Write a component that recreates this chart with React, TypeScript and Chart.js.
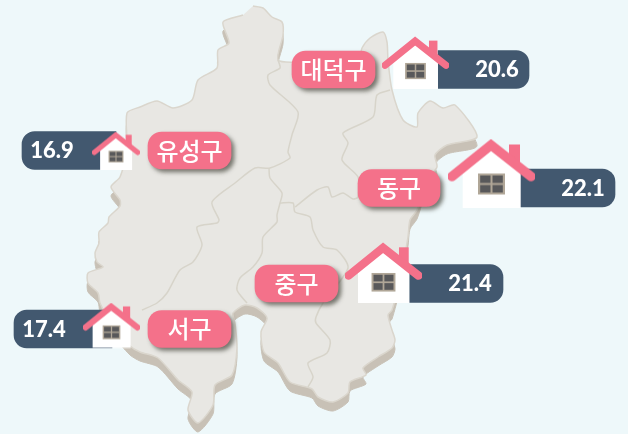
import React, { useEffect, useRef } from "react";
import { Chart, registerables } from "chart.js";

Chart.register(...registerables);

const districts = ["대덕구", "동구", "중구", "유성구", "서구"];
const values = [20.6, 22.1, 21.4, 16.9, 17.4];
const rowY = [69.5, 188, 283.5, 150.5, 329];
const valueBarFrom = [438, 520, 409.5, 116, 112];
const valueBarTo = [529, 615, 503, 22, 14];
const labelFrom = [292, 358, 255, 148, 148];
const labelTo = [375, 440, 338, 231, 231];
const valueTextX = [497, 583, 470, 52, 44];
const houseX = [415.5, 491.5, 383.5, 116, 111.5];
const houseY = [62.5, 173, 272.5, 150.5, 325.5];
const houseWidth = [67, 87, 77, 48, 57];

const mapOutline: number[][] = [
  [253, 6], [263, 8], [272, 17], [282, 22], [283, 35], [278, 60], [300, 62], [358, 60], [362, 48],
  [370, 38], [383, 32], [387, 42], [388, 60], [392, 90], [403, 120], [417, 127], [418, 113],
  [430, 101], [443, 108], [455, 105], [477, 137], [447, 145], [435, 155], [437, 167], [427, 180],
  [417, 210], [410, 220], [408, 237], [400, 280], [392, 310], [388, 315], [392, 330], [395, 340],
  [392, 348], [378, 357], [363, 368], [366, 375], [350, 382], [348, 393], [333, 402], [318, 397],
  [312, 389], [290, 382], [278, 363], [264, 352], [261, 332], [267, 318], [257, 308], [245, 305],
  [233, 313], [235, 323], [237, 348], [232, 375], [215, 385], [213, 405], [198, 423], [188, 410],
  [192, 392], [178, 380], [158, 358], [140, 352], [130, 346], [112, 325], [100, 303], [98, 293],
  [88, 283], [88, 273], [103, 267], [97, 262], [95, 253], [99, 243], [99, 232], [108, 223],
  [109, 217], [120, 206], [120, 200], [111, 187], [120, 177], [127, 150], [127, 113], [140, 107],
  [157, 101], [173, 108], [192, 100], [198, 80], [217, 68], [218, 50], [229, 43], [223, 22], [243, 15],
];
const borderWest: number[][] = [
  [278, 60], [280, 68], [268, 75], [270, 85], [298, 112], [292, 135], [288, 152], [290, 158], [270, 168],
  [255, 168], [235, 183], [212, 202], [219, 220], [217, 223], [197, 227], [202, 245], [193, 262],
  [180, 270], [167, 293], [157, 303], [142, 310],
];
const borderCentre: number[][] = [
  [269, 168], [270, 178], [282, 193], [280, 203], [277, 215], [277, 222], [263, 237], [262, 253],
  [253, 267], [240, 278], [237, 290], [247, 303],
];
const borderSouth: number[][] = [
  [280, 203], [293, 203], [295, 212], [310, 217], [313, 230], [323, 247], [337, 250], [348, 268],
  [323, 303], [316, 317], [316, 323], [330, 340], [327, 353], [308, 363], [313, 377], [308, 387],
];
const borderEast: number[][] = [
  [295, 207], [317, 190], [328, 187], [332, 197], [343, 193], [353, 199], [358, 197], [358, 177],
  [342, 160], [348, 143], [343, 133], [373, 117], [377, 95], [390, 90],
];
const coastSliver: number[][] = [[128, 317], [143, 310]];

const DEPTH = 9;
const COL = { bg: "#EEF8FA", land: "#E8E7E3", side: "#C8C1B6", line: "#D7D4CA", pink: "#F4718A", navy: "#42586F" };

function pts(list: number[][], dy = 0) {
  return list.map(([x, y]) => ({ x, y: y + dy }));
}

function makeHouse(w: number) {
  const c = document.createElement("canvas");
  c.width = Math.ceil(w);
  c.height = Math.ceil(w * 0.79);
  const g = c.getContext("2d")!;
  const s = w / 87;
  g.scale(s, s);
  g.fillStyle = "#fff";
  g.beginPath();
  g.moveTo(14.7, 69); g.lineTo(14.7, 28); g.lineTo(43, 6); g.lineTo(72.7, 28); g.lineTo(72.7, 69);
  g.closePath(); g.fill();
  g.fillStyle = COL.pink;
  g.fillRect(61, 6, 11, 20);
  g.strokeStyle = COL.pink;
  g.lineWidth = 9.4;
  g.lineJoin = "miter";
  g.lineCap = "round";
  g.beginPath();
  g.moveTo(4, 38); g.lineTo(43, 6.5); g.lineTo(83, 38);
  g.stroke();
  g.fillStyle = "#B0A697";
  g.fillRect(30, 35, 27, 21);
  g.fillStyle = "#58585A";
  g.fillRect(32.2, 37, 10.3, 7.5);
  g.fillRect(44.5, 37, 10.3, 7.5);
  g.fillRect(32.2, 46.5, 10.3, 7.5);
  g.fillRect(44.5, 46.5, 10.3, 7.5);
  return c;
}

const lineDs = (data: any[], color: string, width: number, order: number) => ({
  type: "scatter" as const,
  data,
  showLine: true,
  fill: false,
  borderColor: color,
  borderWidth: width,
  pointRadius: 0,
  tension: 0.25,
  order,
});

const overlays = {
  id: "overlays",
  beforeDatasetDraw(chart: any, args: any) {
    const ds = chart.data.datasets[args.index];
    chart.ctx.save();
    if (ds.castShadow) {
      chart.ctx.shadowColor = "rgba(70,70,60,0.7)";
      chart.ctx.shadowBlur = 4;
      chart.ctx.shadowOffsetX = 3;
      chart.ctx.shadowOffsetY = 3;
    }
  },
  afterDatasetDraw(chart: any) {
    chart.ctx.restore();
  },
  afterDatasetsDraw(chart: any) {
    const { ctx, scales } = chart;
    ctx.save();
    ctx.fillStyle = "#fff";
    ctx.textAlign = "center";
    ctx.textBaseline = "middle";
    ctx.font = '900 22px Lato';
    values.forEach((v, i) => {
      ctx.fillText(v.toFixed(1), scales.x.getPixelForValue(valueTextX[i]), scales.y.getPixelForValue(rowY[i]) + 0.5);
    });
    ctx.font = '500 24px "Noto Sans CJK KR"';
    districts.forEach((d, i) => {
      ctx.fillText(d, scales.x.getPixelForValue((labelFrom[i] + labelTo[i]) / 2), scales.y.getPixelForValue(rowY[i]));
    });
    ctx.restore();
  },
};

export default function App() {
  const ref = useRef<HTMLCanvasElement>(null);
  useEffect(() => {
    const chart = new Chart(ref.current!, {
      type: "scatter",
      data: {
        datasets: [
          { ...lineDs(pts(mapOutline, DEPTH), COL.side, 1, 10), fill: "shape", backgroundColor: COL.side },
          { ...lineDs(pts(coastSliver), COL.side, 5, 9) },
          { ...lineDs(pts(mapOutline), "#DAD6CD", 1.5, 8), fill: "shape", backgroundColor: COL.land },
          lineDs(pts(borderWest), COL.line, 1.5, 7),
          lineDs(pts(borderCentre), COL.line, 1.5, 7),
          lineDs(pts(borderSouth), COL.line, 1.5, 7),
          lineDs(pts(borderEast), COL.line, 1.5, 7),
          {
            type: "bar",
            indexAxis: "y",
            grouped: false,
            barThickness: 38,
            data: values.map((_, i) => ({ x: [valueBarFrom[i], valueBarTo[i]], y: rowY[i] })),
            backgroundColor: COL.navy,
            borderSkipped: false,
            borderRadius: (c: any) => {
              const r = 13;
              return c.dataIndex < 3
                ? { topLeft: 0, bottomLeft: 0, topRight: r, bottomRight: r }
                : { topLeft: r, bottomLeft: r, topRight: 0, bottomRight: 0 };
            },
            order: 5,
          },
          {
            type: "bar",
            indexAxis: "y",
            grouped: false,
            barThickness: 37,
            data: values.map((_, i) => ({ x: [labelFrom[i], labelTo[i]], y: rowY[i] })),
            backgroundColor: COL.pink,
            borderSkipped: false,
            borderRadius: 14,
            castShadow: true,
            order: 4,
          },
          {
            type: "scatter",
            data: houseX.map((x, i) => ({ x, y: houseY[i] })),
            pointStyle: houseWidth.map(makeHouse),
            pointRadius: 1,
            showLine: false,
            order: 3,
          },
        ] as any,
      },
      options: {
        responsive: false,
        animation: false,
        events: [],
        layout: { padding: 0, autoPadding: false },
        plugins: { legend: { display: false }, tooltip: { enabled: false } },
        scales: {
          x: { type: "linear", min: 0, max: 628, display: false, offset: false },
          y: { type: "linear", min: 0, max: 434, reverse: true, display: false, offset: false },
        },
      } as any,
      plugins: [overlays],
    });
    return () => chart.destroy();
  }, []);
  return (
    <div style={{ position: "absolute", left: 0, top: 0, width: 628, height: 434, background: COL.bg }}>
      <canvas ref={ref} width={628} height={434} style={{ display: "block" }} />
    </div>
  );
}
